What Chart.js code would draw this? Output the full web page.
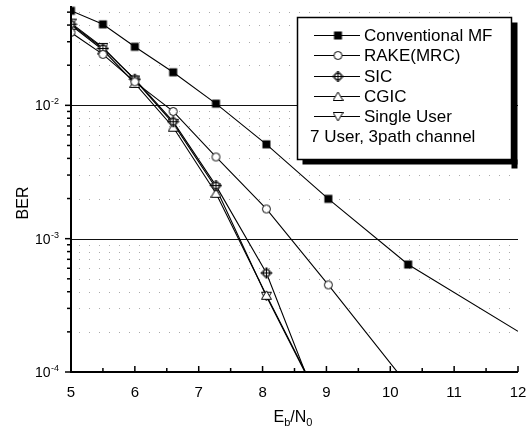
<!DOCTYPE html>
<html><head><meta charset="utf-8">
<script src="https://cdn.jsdelivr.net/npm/chart.js@4/dist/chart.umd.min.js"></script>
<style>html,body{margin:0;padding:0;background:#fff;}#wrap{width:529px;height:432px;}</style>
</head><body><div id="wrap"><canvas id="c" width="529" height="432"></canvas></div>
<script>
// ---- data ----
const ebno = [5, 5.5, 6, 6.6, 7.27, 8.06, 9.03, 10.28, 12];
const berConvMF = [0.0512, 0.0405, 0.0275, 0.0177, 0.0103, 0.0051, 0.00199, 0.00064, 0.000202];
const berRake = [0.0352, 0.0241, 0.0150, 0.0090, 0.0041, 0.00167, 0.00045, 0.000079];
const berSIC = [0.0406, 0.0267, 0.0157, 0.00754, 0.0025, 0.000553, 0.000036];
const berCGIC = [0.0398, 0.0260, 0.0146, 0.00685, 0.00219, 0.000376, 0.000046];
const berSingle = [0.0414, 0.0272, 0.0155, 0.00733, 0.0024, 0.00037, 0.000045];
const seriesNames = ['Conventional MF', 'RAKE(MRC)', 'SIC', 'CGIC', 'Single User'];
const noteText = '7 User, 3path channel';
const xTickValues = [5, 6, 7, 8, 9, 10, 11, 12];
const xMinorTickValues = [5.5, 6.5, 7.5, 8.5, 9.5, 10.5, 11.5];
const yDecadeExponents = [-4, -3, -2];
const yLabel = 'BER';
const xLabelParts = ['E', 'b', '/N', '0'];

const FONT = '"Liberation Sans", Arial, Helvetica, sans-serif';

function makeMarker(kind) {
  const s = kind === 'diamond' ? 13 : 11;
  const cv = document.createElement('canvas');
  cv.width = s; cv.height = s;
  const g = cv.getContext('2d');
  g.lineWidth = 1; g.strokeStyle = '#000'; g.fillStyle = '#fff';
  const c = s / 2;
  if (kind === 'square') {
    g.fillStyle = '#000'; g.fillRect(1.5, 1.5, 8, 8);
  } else if (kind === 'circle') {
    g.beginPath(); g.arc(c, c, 4, 0, Math.PI * 2); g.fill(); g.stroke();
  } else if (kind === 'diamond') {
    g.beginPath(); g.moveTo(c, 1); g.lineTo(s - 1, c); g.lineTo(c, s - 1); g.lineTo(1, c); g.closePath();
    g.fill(); g.stroke();
    g.beginPath(); g.moveTo(c, 1); g.lineTo(c, s - 1); g.moveTo(1, c); g.lineTo(s - 1, c); g.stroke();
    g.beginPath(); g.arc(c, c, 3.2, 0, Math.PI * 2); g.stroke();
  } else if (kind === 'up') {
    g.beginPath(); g.moveTo(c, 1); g.lineTo(s - 0.5, 9.5); g.lineTo(0.5, 9.5); g.closePath(); g.fill(); g.stroke();
  } else if (kind === 'down') {
    g.beginPath(); g.moveTo(0.5, 1.5); g.lineTo(s - 0.5, 1.5); g.lineTo(c, 10); g.closePath(); g.fill(); g.stroke();
  }
  return cv;
}
const markers = [makeMarker('square'), makeMarker('circle'), makeMarker('diamond'), makeMarker('up'), makeMarker('down')];
const seriesValues = [berConvMF, berRake, berSIC, berCGIC, berSingle];

const datasets = seriesValues.map((vals, i) => ({
  label: seriesNames[i],
  data: vals.map((v, k) => ({ x: ebno[k], y: v })),
  borderColor: '#000',
  borderWidth: 1.1,
  pointStyle: markers[i],
  pointRadius: vals.map((v, k) => (i === 0 && k === vals.length - 1) ? 0 : 5),
  tension: 0,
  fill: false,
  clip: 0
}));

const decorations = {
  id: 'decorations',
  beforeDatasetsDraw(chart) {
    const { ctx, chartArea: a, scales: { x, y } } = chart;
    ctx.save();
    // minor dotted grid
    ctx.strokeStyle = '#aaaaaa'; ctx.lineWidth = 1; ctx.setLineDash([1, 9]);
    for (const e of [-4, -3, -2]) {
      for (let m = 2; m <= 9; m++) {
        const v = m * Math.pow(10, e);
        if (v > y.max) continue;
        const py = Math.round(y.getPixelForValue(v)) + 0.5;
        ctx.beginPath(); ctx.moveTo(a.left + 8, py); ctx.lineTo(a.right, py); ctx.stroke();
      }
    }
    ctx.setLineDash([]);
    ctx.strokeStyle = '#111';
    for (const e of yDecadeExponents) {
      if (e === -4) continue;
      const py = Math.round(y.getPixelForValue(Math.pow(10, e))) + 0.5;
      ctx.beginPath(); ctx.moveTo(a.left, py); ctx.lineTo(a.right, py); ctx.stroke();
    }
    ctx.restore();
  },
  afterDatasetsDraw(chart) {
    const { ctx, chartArea: a, scales: { x, y } } = chart;
    ctx.save();
    ctx.strokeStyle = '#000'; ctx.fillStyle = '#000';
    // axes
    ctx.lineWidth = 2;
    ctx.beginPath(); ctx.moveTo(a.left, a.top); ctx.lineTo(a.left, a.bottom); ctx.lineTo(a.right, a.bottom); ctx.stroke();
    ctx.lineWidth = 1.5;
    // x ticks (inward)
    for (const t of xTickValues) {
      const px = x.getPixelForValue(t);
      ctx.beginPath(); ctx.moveTo(px, a.bottom); ctx.lineTo(px, a.bottom - 6); ctx.stroke();
    }
    for (const t of xMinorTickValues) {
      const px = x.getPixelForValue(t);
      ctx.beginPath(); ctx.moveTo(px, a.bottom); ctx.lineTo(px, a.bottom - 4); ctx.stroke();
    }
    // y ticks (outward)
    for (const e of [-4, -3, -2]) {
      for (let m = 1; m <= 9; m++) {
        const v = m * Math.pow(10, e);
        if (v > y.max) continue;
        const py = y.getPixelForValue(v);
        ctx.beginPath(); ctx.moveTo(a.left, py); ctx.lineTo(a.left - (m === 1 ? 6 : 4), py); ctx.stroke();
      }
    }
    // x tick labels
    ctx.font = '15px ' + FONT; ctx.textAlign = 'center'; ctx.textBaseline = 'alphabetic';
    for (const t of xTickValues) {
      ctx.fillText(String(t), x.getPixelForValue(t), a.bottom + 25);
    }
    // y tick labels 10^e
    for (const e of yDecadeExponents) {
      const py = y.getPixelForValue(Math.pow(10, e));
      ctx.font = '9px ' + FONT; ctx.textAlign = 'right';
      const exp = String(e);
      ctx.fillText(exp, 59, py - 1);
      const ew = ctx.measureText(exp).width;
      ctx.font = '14px ' + FONT;
      ctx.fillText('10', 59 - ew - 0.5, py + 5);
    }
    // axis titles
    ctx.save();
    ctx.translate(28, 203); ctx.rotate(-Math.PI / 2);
    ctx.font = '16px ' + FONT; ctx.textAlign = 'center';
    ctx.fillText(yLabel, 0, 0);
    ctx.restore();
    // E_b/N_0
    const big = '16px ' + FONT, small = '11px ' + FONT;
    const parts = [[xLabelParts[0], big, 0], [xLabelParts[1], small, 4], [xLabelParts[2], big, 0], [xLabelParts[3], small, 4]];
    let tw = 0;
    for (const p of parts) { ctx.font = p[1]; tw += ctx.measureText(p[0]).width; }
    let cx = 293 - tw / 2;
    ctx.textAlign = 'left';
    for (const p of parts) { ctx.font = p[1]; ctx.fillText(p[0], cx, 422 + p[2]); cx += ctx.measureText(p[0]).width; }

    // legend box with shadow
    const L = 297.5, T = 17.5, W = 214, H = 142;
    ctx.fillStyle = '#000';
    ctx.fillRect(L + W, T + 5, 6, H + 4);
    ctx.fillRect(L + 5, T + H, W + 1, 5);
    ctx.fillStyle = '#fff'; ctx.fillRect(L, T, W, H);
    ctx.lineWidth = 1.5; ctx.strokeStyle = '#000'; ctx.strokeRect(L, T, W, H);
    ctx.fillStyle = '#000';
    ctx.font = '17px ' + FONT; ctx.textAlign = 'left'; ctx.textBaseline = 'middle';
    const rowH = 20.3;
    seriesNames.forEach((name, i) => {
      const ry = Math.round(35 + i * rowH) + 0.5;
      ctx.lineWidth = 1;
      ctx.beginPath(); ctx.moveTo(314, ry); ctx.lineTo(360, ry); ctx.stroke();
      const mk = markers[i];
      ctx.drawImage(mk, 338 - mk.width / 2, ry - mk.height / 2);
      ctx.fillText(name, 364, ry + 1);
    });
    ctx.fillText(noteText, 310, 35 + 5 * rowH + 1);
    ctx.restore();
  }
};

new Chart(document.getElementById('c'), {
  type: 'line',
  data: { datasets },
  options: {
    responsive: false,
    animation: false,
    events: [],
    layout: { padding: { top: 6, right: 11, left: 0, bottom: 0 } },
    plugins: { legend: { display: false }, tooltip: { enabled: false } },
    scales: {
      x: {
        type: 'linear', min: 5, max: 12,
        grid: { display: false }, border: { display: false },
        ticks: { display: false },
        afterFit(s) { s.height = 60; }
      },
      y: {
        type: 'logarithmic', min: 1e-4, max: 0.0555,
        grid: { display: false }, border: { display: false },
        ticks: { display: false },
        afterFit(s) { s.width = 71; }
      }
    }
  },
  plugins: [decorations]
});
</script>
</body></html>
